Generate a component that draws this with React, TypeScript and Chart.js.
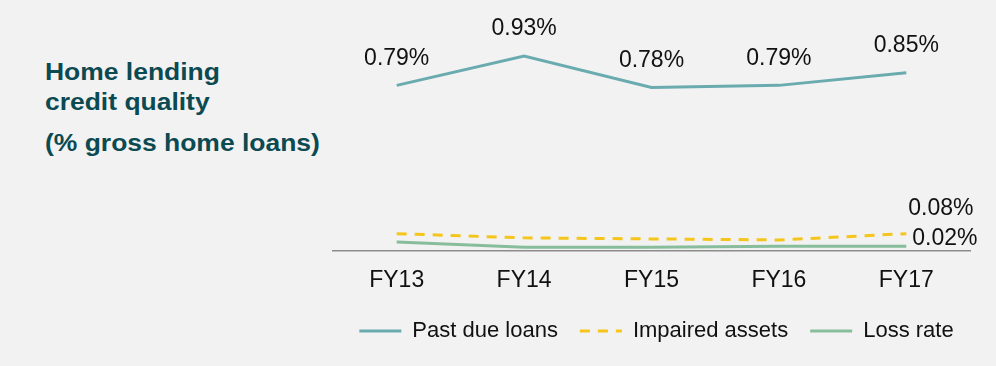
import React, { useEffect, useRef } from 'react';
import { Chart, registerables } from 'chart.js';

Chart.register(...registerables);

const categories = ['FY13', 'FY14', 'FY15', 'FY16', 'FY17'];
const pastDueLoans = [0.79, 0.93, 0.78, 0.79, 0.85];
const impairedAssets = [0.08, 0.06, 0.055, 0.05, 0.08];
const lossRate = [0.04, 0.015, 0.015, 0.02, 0.02];
const pastDueLabels = ['0.79%', '0.93%', '0.78%', '0.79%', '0.85%'];
const impairedEndLabel = '0.08%';
const lossEndLabel = '0.02%';
const seriesNames = ['Past due loans', 'Impaired assets', 'Loss rate'];

const FONT = '"Liberation Sans", Arial, sans-serif';

const valueLabelPlugin = {
  id: 'valueLabels',
  afterDatasetsDraw(chart: any) {
    const ctx = chart.ctx;
    ctx.save();
    ctx.font = `23px ${FONT}`;
    ctx.fillStyle = '#111111';
    ctx.textBaseline = 'middle';
    ctx.textAlign = 'center';
    chart.getDatasetMeta(0).data.forEach((pt: any, i: number) => {
      ctx.fillText(pastDueLabels[i], pt.x, pt.y - 27);
    });
    const last = categories.length - 1;
    ctx.textAlign = 'left';
    const p1 = chart.getDatasetMeta(1).data[last];
    ctx.fillText(impairedEndLabel, p1.x + 2, p1.y - 25);
    const p2 = chart.getDatasetMeta(2).data[last];
    ctx.fillText(lossEndLabel, p2.x + 6, p2.y - 8);
    ctx.restore();
  },
};

export default function App() {
  const canvasRef = useRef<HTMLCanvasElement | null>(null);

  useEffect(() => {
    document.body.style.margin = '0';
    document.body.style.background = '#f2f2f2';
    const canvas = canvasRef.current;
    if (!canvas) return;
    const chart = new Chart(canvas, {
      type: 'line',
      data: {
        labels: categories,
        datasets: [
          {
            label: seriesNames[0],
            data: pastDueLoans,
            borderColor: '#6aabaf',
            backgroundColor: '#6aabaf',
            borderWidth: 3,
            pointRadius: 0,
            tension: 0,
          },
          {
            label: seriesNames[1],
            data: impairedAssets,
            borderColor: '#f5c51c',
            backgroundColor: '#f5c51c',
            borderWidth: 3,
            borderDash: [10, 8],
            pointRadius: 0,
            tension: 0,
          },
          {
            label: seriesNames[2],
            data: lossRate,
            borderColor: '#88bd9c',
            backgroundColor: '#88bd9c',
            borderWidth: 3,
            pointRadius: 0,
            tension: 0,
          },
        ],
      },
      options: {
        animation: false,
        responsive: false,
        maintainAspectRatio: false,
        layout: { padding: { left: 317, right: 0, top: 41.5, bottom: 14 } },
        scales: {
          x: {
            offset: true,
            grid: { display: false, drawTicks: false },
            border: { display: true, color: '#8c8c8c', width: 1.5 },
            ticks: {
              color: '#111111',
              font: { family: FONT, size: 23 },
              padding: 16,
            },
            afterFit: (s: any) => {
              s.height = s.height - 12;
            },
          },
          y: {
            display: true,
            position: 'left',
            min: 0,
            max: 1.0,
            ticks: { display: false },
            grid: { display: false, drawTicks: false },
            border: { display: false },
            afterFit: (s: any) => {
              s.width = 16;
            },
          },
          yRight: {
            display: true,
            position: 'right',
            min: 0,
            max: 1.0,
            ticks: { display: false },
            grid: { display: false, drawTicks: false },
            border: { display: false },
            afterFit: (s: any) => {
              s.width = 26;
            },
          },
        },
        plugins: {
          legend: {
            display: true,
            position: 'bottom',
            labels: {
              usePointStyle: true,
              pointStyle: 'line',
              pointStyleWidth: 42,
              boxWidth: 42,
              color: '#111111',
              font: { family: FONT, size: 22 },
              padding: 22,
              generateLabels: (c: any) =>
                Chart.defaults.plugins.legend.labels.generateLabels(c).map((item: any, i: number) => ({
                  ...item,
                  lineDash: c.data.datasets[i].borderDash || [],
                  lineWidth: 3,
                  strokeStyle: c.data.datasets[i].borderColor,
                })),
            },
          },
          tooltip: { enabled: false },
        },
      },
      plugins: [valueLabelPlugin],
    });
    return () => chart.destroy();
  }, []);

  const titleStyle: React.CSSProperties = {
    position: 'absolute',
    left: 45,
    margin: 0,
    fontFamily: FONT,
    fontWeight: 'bold',
    fontSize: 23,
    lineHeight: '23px',
    color: '#0c4a52',
    whiteSpace: 'nowrap',
    transform: 'scaleX(1.15)',
    transformOrigin: 'left top',
  };

  return (
    <div style={{ position: 'relative', width: 996, height: 366, background: '#f2f2f2', overflow: 'hidden' }}>
      <div style={{ ...titleStyle, top: 61 }}>Home lending</div>
      <div style={{ ...titleStyle, top: 91 }}>credit quality</div>
      <div style={{ ...titleStyle, top: 132 }}>(% gross home loans)</div>
      <canvas ref={canvasRef} width={996} height={366} style={{ position: 'absolute', left: 0, top: 0, width: 996, height: 366 }} />
    </div>
  );
}
